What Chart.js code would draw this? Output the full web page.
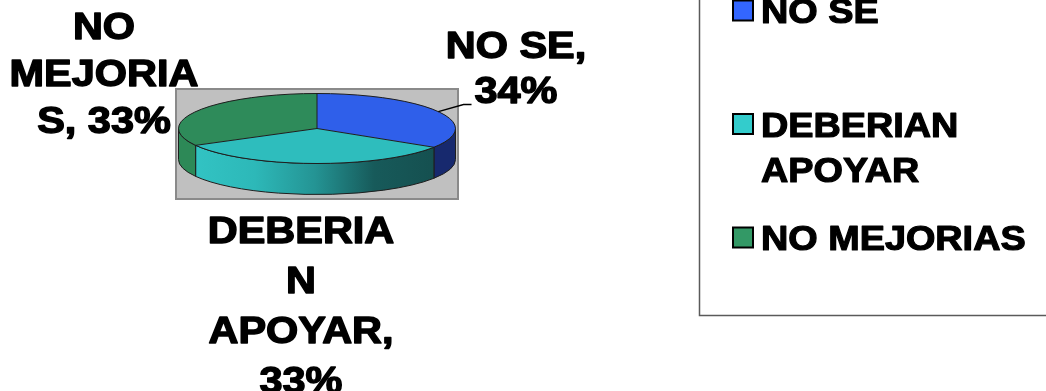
<!DOCTYPE html>
<html>
<head>
<meta charset="utf-8">
<script src="https://cdn.jsdelivr.net/npm/chart.js@4.4.1/dist/chart.umd.min.js"></script>
<style>
  html, body { margin: 0; padding: 0; background: #fff; overflow: hidden; }
  #wrap { position: absolute; left: 0; top: 0; width: 1046px; height: 391px; }
</style>
</head>
<body>
<div id="wrap"><canvas id="c" width="1046" height="391"></canvas></div>
<script>
// Survey answers and their shares (%)
const categories = ['NO SE', 'DEBERIAN APOYAR', 'NO MEJORIAS'];
const shares = [34, 33, 33];

// Colours: top faces, legend swatches, side walls (several stops = left-to-right shading)
const topColors = ['#2F5FEA', '#2EBDBD', '#2E8B5A'];
const swatchColors = ['#3366FF', '#33CCCC', '#339966'];
const wallColors = [
  ['#17296E'],
  ['#32C3C3', '#2DB8B8', '#249494', '#175A5A', '#155050'],
  ['#2D8957']
];

// Flattened 3D pie geometry on screen
const PIE = { cx: 317, cy: 128.5, rx: 138.5, ry: 35, depth: 31 };

const FONT = '"Liberation Sans", Arial, sans-serif';
const LABEL = { size: 37, stretch: 1.12, wrap: 195, weight: 1.4 };
const LEGEND = { size: 35, stretch: 1.08, wrap: 270, weight: 1.2, x: 699.5, bottom: 315.5,
                 swatchX: 733, textX: 761, firstBaseline: 23, slot: 113.5, lineHeight: 45 };

// Where each data label sits: centre x, first baseline, line spacing
const labelSpots = [
  { x: 516, y: 57.5, lh: 45.5, leader: true },
  { x: 301, y: 243, lh: 50 },
  { x: 104, y: 39, lh: 47 }
];

function ellipsePoint(a, dy) {
  return { x: PIE.cx + PIE.rx * Math.cos(a), y: PIE.cy + (dy || 0) + PIE.ry * Math.sin(a) };
}

function wrapText(ctx, text, maxW, sx) {
  const w = s => ctx.measureText(s).width * sx;
  const lines = [];
  let cur = '';
  for (let word of text.split(' ')) {
    const trial = cur ? cur + ' ' + word : word;
    if (w(trial) <= maxW) { cur = trial; continue; }
    if (cur) { lines.push(cur); cur = ''; }
    while (w(word) > maxW) {
      let n = word.length - 1;
      while (n > 1 && w(word.slice(0, n)) > maxW) n--;
      lines.push(word.slice(0, n));
      word = word.slice(n);
    }
    cur = word;
  }
  if (cur) lines.push(cur);
  return lines;
}

// bold text, widened horizontally and thickened with a matching stroke
function stretchedText(ctx, str, x, y, sx, align, weight) {
  ctx.save();
  ctx.translate(x, y);
  ctx.scale(sx, 1);
  ctx.textAlign = align;
  ctx.fillText(str, 0, 0);
  if (weight) {
    ctx.lineWidth = weight;
    ctx.lineJoin = 'round';
    ctx.strokeStyle = ctx.fillStyle;
    ctx.strokeText(str, 0, 0);
  }
  ctx.restore();
}

// Front wall segments of an arc (visible half: angles 0..PI)
function frontSpans(s, e) {
  const spans = [];
  for (let k = -1; k <= 1; k++) {
    const lo = Math.max(s, 2 * Math.PI * k), hi = Math.min(e, Math.PI + 2 * Math.PI * k);
    if (hi > lo) spans.push([lo, hi]);
  }
  return spans;
}

const pie3d = {
  id: 'pie3d',
  beforeDatasetsDraw(chart) {
    const ctx = chart.ctx;
    const arcs = chart.getDatasetMeta(0).data;

    // grey plot area behind the pie
    const bx = PIE.cx - PIE.rx - 2.5, by = PIE.cy - PIE.ry - 4.5;
    const bw = 2 * PIE.rx + 5, bh = 2 * PIE.ry + PIE.depth + 9;
    ctx.save();
    ctx.fillStyle = '#C0C0C0';
    ctx.fillRect(bx, by, bw, bh);
    ctx.strokeStyle = '#8A8A8A';
    ctx.lineWidth = 2;
    ctx.strokeRect(bx, by, bw, bh);

    // side walls
    arcs.forEach((arc, i) => {
      const { startAngle, endAngle } = arc.getProps(['startAngle', 'endAngle'], true);
      frontSpans(startAngle, endAngle).forEach(([a0, a1]) => {
        const p0 = ellipsePoint(a0), p1 = ellipsePoint(a1);
        ctx.beginPath();
        ctx.moveTo(p0.x, p0.y);
        ctx.ellipse(PIE.cx, PIE.cy, PIE.rx, PIE.ry, 0, a0, a1);
        ctx.lineTo(p1.x, p1.y + PIE.depth);
        ctx.ellipse(PIE.cx, PIE.cy + PIE.depth, PIE.rx, PIE.ry, 0, a1, a0, true);
        ctx.closePath();
        const stops = wallColors[i];
        if (stops.length > 1) {
          const xl = Math.min(p0.x, p1.x), xr = Math.max(p0.x, p1.x);
          const g = ctx.createLinearGradient(xl, 0, xr, 0);
          stops.forEach((c, j) => g.addColorStop(j / (stops.length - 1), c));
          ctx.fillStyle = g;
        } else {
          ctx.fillStyle = stops[0];
        }
        ctx.fill();
        ctx.strokeStyle = '#1E1E1E';
        ctx.lineWidth = 1;
        ctx.stroke();
      });
    });
    ctx.restore();
  },
  beforeDatasetDraw(chart, args) {
    // squash the library's circular pie into the flat top ellipse
    const arc = args.meta.data[0];
    const ctx = chart.ctx;
    ctx.save();
    ctx.translate(PIE.cx, PIE.cy);
    ctx.scale(PIE.rx / arc.outerRadius, PIE.ry / arc.outerRadius);
    ctx.translate(-arc.x, -arc.y);
  },
  afterDatasetDraw(chart) {
    chart.ctx.restore();
  },
  afterDatasetsDraw(chart) {
    const ctx = chart.ctx;
    const arcs = chart.getDatasetMeta(0).data;
    ctx.save();
    ctx.strokeStyle = '#1E1E1E';
    ctx.lineWidth = 1;
    ctx.beginPath();
    ctx.ellipse(PIE.cx, PIE.cy, PIE.rx, PIE.ry, 0, 0, 2 * Math.PI);
    ctx.stroke();
    arcs.forEach(arc => {
      const p = ellipsePoint(arc.startAngle);
      ctx.beginPath();
      ctx.moveTo(PIE.cx, PIE.cy);
      ctx.lineTo(p.x, p.y);
      ctx.stroke();
    });
    ctx.restore();
  },
  afterDraw(chart) {
    const ctx = chart.ctx;
    const arcs = chart.getDatasetMeta(0).data;
    const total = shares.reduce((a, b) => a + b, 0);
    ctx.save();
    ctx.fillStyle = '#000';
    ctx.textBaseline = 'alphabetic';

    // data labels
    ctx.font = `bold ${LABEL.size}px ${FONT}`;
    categories.forEach((name, i) => {
      const pct = Math.round(shares[i] / total * 100);
      const lines = wrapText(ctx, `${name}, ${pct}%`, LABEL.wrap, LABEL.stretch);
      const spot = labelSpots[i];
      lines.forEach((ln, j) => stretchedText(ctx, ln, spot.x, spot.y + j * spot.lh, LABEL.stretch, 'center', LABEL.weight));
      if (spot.leader) {
        // leader from the slice edge to the foot of the label's last line
        const arc = arcs[i];
        const mid = (arc.startAngle + arc.endAngle) / 2;
        const p = ellipsePoint(mid);
        const last = lines[lines.length - 1];
        const endX = spot.x - ctx.measureText(last).width * LABEL.stretch / 2 - 3;
        const endY = spot.y + (lines.length - 1) * spot.lh + 1.5;
        ctx.beginPath();
        ctx.strokeStyle = '#000';
        ctx.lineWidth = 1.5;
        ctx.moveTo(p.x, p.y);
        ctx.lineTo(endX - 8, endY);
        ctx.lineTo(endX, endY);
        ctx.stroke();
      }
    });

    // legend
    ctx.strokeStyle = '#5A5A5A';
    ctx.lineWidth = 1.5;
    ctx.strokeRect(LEGEND.x, -10, 500, LEGEND.bottom + 10);
    ctx.font = `bold ${LEGEND.size}px ${FONT}`;
    categories.forEach((name, i) => {
      const base = LEGEND.firstBaseline + i * LEGEND.slot;
      ctx.fillStyle = swatchColors[i];
      ctx.fillRect(LEGEND.swatchX, base - 22.5, 20, 20);
      ctx.strokeStyle = '#000';
      ctx.lineWidth = 2;
      ctx.strokeRect(LEGEND.swatchX, base - 22.5, 20, 20);
      ctx.fillStyle = '#000';
      const lines = wrapText(ctx, name, LEGEND.wrap, LEGEND.stretch);
      lines.forEach((ln, j) => stretchedText(ctx, ln, LEGEND.textX, base + j * LEGEND.lineHeight, LEGEND.stretch, 'left', LEGEND.weight));
    });
    ctx.restore();
  }
};

new Chart(document.getElementById('c'), {
  type: 'pie',
  data: {
    labels: categories,
    datasets: [{
      data: shares,
      backgroundColor: topColors,
      borderWidth: 0,
      hoverOffset: 0
    }]
  },
  options: {
    responsive: false,
    animation: false,
    devicePixelRatio: 1,
    events: [],
    layout: { padding: { left: 178, right: 590, top: 57, bottom: 57 } },
    plugins: {
      legend: { display: false },
      tooltip: { enabled: false }
    }
  },
  plugins: [pie3d]
});
</script>
</body>
</html>
